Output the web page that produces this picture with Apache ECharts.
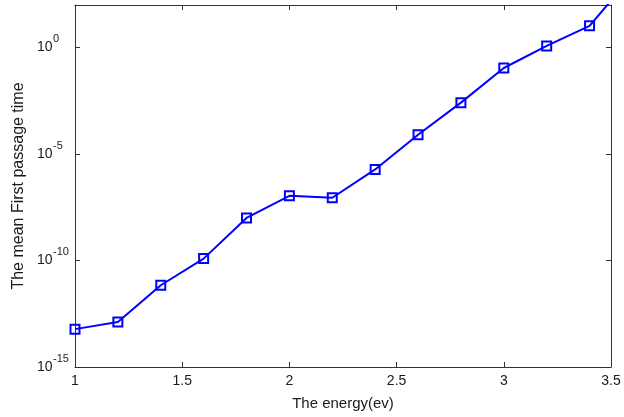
<!DOCTYPE html>
<html>
<head>
<meta charset="utf-8">
<script src="https://cdn.jsdelivr.net/npm/echarts@6/dist/echarts.min.js"></script>
<style>
  html, body { margin: 0; padding: 0; background: #fff; }
  #chart { width: 624px; height: 417px; }
</style>
</head>
<body>
<div id="chart"></div>
<script>
// Energy (ev) sample points
const energy = [1.0, 1.2, 1.4, 1.6, 1.8, 2.0, 2.2, 2.4, 2.6, 2.8, 3.0, 3.2, 3.4, 3.5];
// Mean first passage time at each energy
const meanTime = [6.0e-14, 1.3e-13, 6.9e-12, 1.23e-10, 1.0e-8, 1.1e-7, 8.9e-8,
                  1.9e-6, 8.1e-5, 2.6e-3, 0.11, 1.2, 10.5, 160];
// Decades that carry a tick label on the y axis
const yLabelExponents = [-15, -10, -5, 0];

const chart = echarts.init(document.getElementById('chart'));

const axisColor = '#333';
const textColor = '#1a1a1a';
const font = 'Liberation Sans';

const data = energy.map((x, i) => {
  const item = { value: [x, meanTime[i]] };
  if (i === energy.length - 1) item.symbol = 'none';
  return item;
});

function exponentOf(v) {
  const e = Math.round(Math.log10(v));
  return yLabelExponents.indexOf(e) < 0 ? null : e;
}

const tickStyle = { show: true, inside: true, length: 5, lineStyle: { color: axisColor } };
const lineStyle = { show: true, lineStyle: { color: axisColor, width: 1 } };
const logRange = { type: 'log', logBase: 10, min: 1e-15, max: 1e2, interval: 5 };

chart.setOption({
  animation: false,
  backgroundColor: '#fff',
  grid: { left: 75, right: 13, top: 5, bottom: 50, containLabel: false },
  xAxis: [{
    type: 'value', min: 1, max: 3.5, interval: 0.5, position: 'bottom',
    name: 'The energy(ev)', nameLocation: 'middle', nameGap: 29,
    nameTextStyle: { fontFamily: font, fontSize: 15, color: textColor },
    axisLine: lineStyle,
    axisTick: tickStyle,
    axisLabel: { margin: 7, formatter: v => String(v), fontFamily: font, fontSize: 14, color: textColor },
    splitLine: { show: false }
  }, {
    type: 'value', min: 1, max: 3.5, interval: 0.5, position: 'top',
    axisLine: lineStyle,
    axisTick: tickStyle,
    axisLabel: { show: false },
    splitLine: { show: false }
  }],
  yAxis: [Object.assign({}, logRange, {
    position: 'left',
    name: 'The mean First passage time', nameLocation: 'middle', nameGap: 48,
    nameTextStyle: { fontFamily: font, fontSize: 16, color: textColor },
    axisLine: lineStyle,
    axisTick: tickStyle,
    // base "10" of each power label
    axisLabel: {
      margin: 38, align: 'left',
      formatter: v => exponentOf(v) === null ? '' : '10',
      fontFamily: font, fontSize: 14, color: textColor
    },
    splitLine: { show: false },
    minorSplitLine: { show: false }
  }), Object.assign({}, logRange, {
    position: 'right',
    axisLine: lineStyle,
    axisTick: tickStyle,
    axisLabel: { show: false },
    splitLine: { show: false }
  }), Object.assign({}, logRange, {
    // raised exponent of each power label
    position: 'left',
    axisLine: { show: false },
    axisTick: { show: false },
    axisLabel: {
      margin: 22, align: 'left', verticalAlign: 'bottom',
      padding: [0, 0, 3, 0],
      formatter: v => { const e = exponentOf(v); return e === null ? '' : String(e); },
      fontFamily: font, fontSize: 11, color: textColor
    },
    splitLine: { show: false }
  })],
  series: [{
    type: 'line',
    xAxisIndex: 0, yAxisIndex: 0,
    data: data,
    clip: true,
    symbol: 'rect',
    symbolSize: 9,
    showAllSymbol: true,
    lineStyle: { color: '#0000ff', width: 2 },
    itemStyle: { color: 'rgba(255,255,255,0)', borderColor: '#0000ff', borderWidth: 2 }
  }]
});
</script>
</body>
</html>
